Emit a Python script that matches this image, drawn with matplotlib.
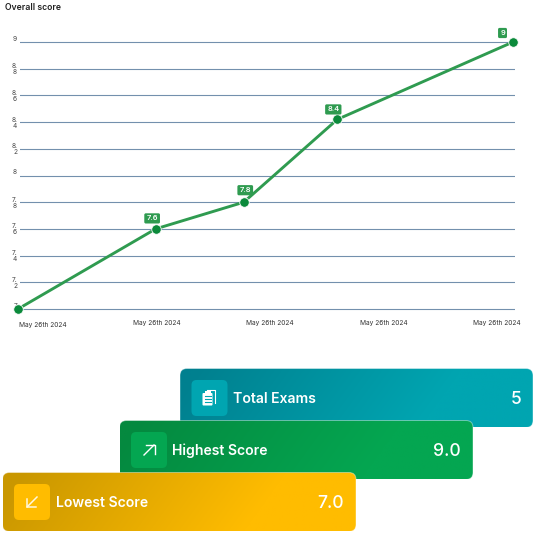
import numpy as np
import matplotlib
matplotlib.use("Agg")
import matplotlib.pyplot as plt
from matplotlib.patches import FancyBboxPatch, Rectangle
from matplotlib.transforms import ScaledTranslation

plt.rcParams['font.family'] = ['Inter', 'DejaVu Sans']

W, H = 536, 533

# chart data
x_pos = [0, 27.8, 45.6, 64.5, 100]
scores = [7, 7.6, 7.8, 8.42, 9]
score_labels = ['7', '7.6', '7.8', '8.4', '9']
label_offsets = [(3.5, 9), (-3.5, 10.5), (1.5, 12), (-4, 10), (-10.5, 9)]

y_ticks = [7, 7.2, 7.4, 7.6, 7.8, 8, 8.2, 8.4, 8.6, 8.8, 9]
y_tick_labels = ['7', '7.\n2', '7.\n4', '7.\n6', '7.\n8', '8', '8.\n2', '8.\n4', '8.\n6', '8.\n8', '9']
x_ticks = [5.05, 27.98, 50.9, 73.8, 96.8]
x_tick_labels = ['May 26th 2024'] * 5

# cards
card_names = ['Total Exams', 'Highest Score', 'Lowest Score']
card_values = ['5', '9.0', '7.0']
card_left = [180, 119.5, 2.5]
card_right = [533, 473, 356]
card_top = [368.5, 420.5, 472.5]
card_dark = ['#00808f', '#05893f', '#c99700']
card_light = ['#00a5b1', '#04a651', '#ffbc00']
CARD_H = 59


def px(n):
    # pixels to points at dpi 100
    return n * 0.72


def hex_rgb(c):
    return np.array(matplotlib.colors.to_rgb(c))


fig = plt.figure(figsize=(W / 100, H / 100), dpi=100)

# overlay in pixel coords, for the title and cards
bg = fig.add_axes([0, 0, 1, 1])
bg.set_xlim(0, W)
bg.set_ylim(H, 0)
bg.axis('off')

bg.text(5, 7, 'Overall score', fontsize=px(8.7), fontweight='semibold', color='#222222', va='center')

# line chart
ax = fig.add_axes([20 / W, (H - 311.5) / H, 495 / W, 282 / H])
ax.patch.set_alpha(0)
ax.set_xlim(0.4, 100.4)
ax.set_ylim(7 - 2.5 / 133.5, 9 + 12.5 / 133.5)
for s in ax.spines.values():
    s.set_visible(False)

ax.set_yticks(y_ticks)
ax.set_yticklabels(y_tick_labels, fontsize=px(6.6), color='#444444', linespacing=1.0)
ax.set_xticks(x_ticks)
ax.set_xticklabels(x_tick_labels, fontsize=px(6.6), color='#333333')
ax.tick_params(axis='both', length=0)
ax.tick_params(axis='y', pad=px(3))
ax.tick_params(axis='x', pad=px(9))
ax.grid(axis='y', color='#7390ad', lw=px(1.1))
ax.set_axisbelow(True)

# single line y labels sit above their gridline, first x label is a bit lower
for t, s in zip(ax.get_yticklabels(), y_tick_labels):
    if '\n' not in s:
        t.set_transform(t.get_transform() + ScaledTranslation(0, px(4) / 72, fig.dpi_scale_trans))
first = ax.get_xticklabels()[0]
first.set_transform(first.get_transform() + ScaledTranslation(0, -px(1.5) / 72, fig.dpi_scale_trans))

ax.plot(x_pos, scores, color='#2f9b50', lw=px(2.9), clip_on=False, zorder=3, solid_capstyle='round')
ax.plot(x_pos, scores, 'o', ms=px(9.5), mfc='#0b8a3b', mec='white', mew=px(0.8), clip_on=False, zorder=4)

for x, y, s, off in zip(x_pos, scores, score_labels, label_offsets):
    ax.annotate(s, (x, y), xytext=(px(off[0]), px(off[1])), textcoords='offset points',
                ha='center', va='center', fontsize=px(7.5), fontweight='semibold', color='white', zorder=5,
                bbox=dict(boxstyle='round,pad=0.28,rounding_size=0.2', fc='#2f9b50', ec='none'))


# cards, bottom card is drawn last so it overlaps the one above
for i in range(3):
    l, r, t = card_left[i], card_right[i], card_top[i]
    b = t + CARD_H
    patch = FancyBboxPatch((l, t), r - l, CARD_H, boxstyle='round,pad=0,rounding_size=7',
                           fc='none', ec='none', transform=bg.transData, zorder=2 + i)
    bg.add_patch(patch)
    # diagonal gradient, reaches the light colour at ~80% of the width
    xx, yy = np.meshgrid(np.linspace(0, 1, 400), np.linspace(0, 1, 60))
    g = np.clip((xx + 0.12 * yy - 0.05) / 0.75, 0, 1)[..., None]
    img = hex_rgb(card_dark[i]) * (1 - g) + hex_rgb(card_light[i]) * g
    im = bg.imshow(img, extent=(l, r, b, t), aspect='auto', zorder=2 + i, interpolation='bilinear')
    im.set_clip_path(patch)
    bg.add_patch(FancyBboxPatch((l, t), r - l, CARD_H, boxstyle='round,pad=0,rounding_size=7',
                                fc='none', ec=(1, 1, 1, 0.4), lw=px(1), zorder=2 + i))
    # icon box
    bx = l + 11.5
    by = t + 11.5
    bg.add_patch(FancyBboxPatch((bx, by), 36, 36, boxstyle='round,pad=0,rounding_size=5',
                                fc=card_light[i], ec='none', zorder=2 + i))
    bg.text(bx + 41.5, t + 30.7, card_names[i], fontsize=px(14), fontweight='semibold', color='white',
            va='center', zorder=2 + i)
    bg.text(r - 12, t + 30.7, card_values[i], fontsize=px(17.5), fontweight='medium', color='white',
            va='center', ha='right', zorder=2 + i)
bg.set_xlim(0, W)
bg.set_ylim(H, 0)

# clipboard icon
cx, cy = 209, 398
bg.add_patch(FancyBboxPatch((cx - 6.5, cy - 5), 10, 12.5, boxstyle='round,pad=0,rounding_size=1',
                            fc='white', ec='none', zorder=6))
bg.add_patch(Rectangle((cx - 4, cy - 7), 5.5, 2.5, fc='white', ec='none', zorder=6))
bg.plot([cx - 2, cx + 5.5, cx + 5.5], [cy - 8, cy - 8, cy + 5], color='white', lw=px(1.1), zorder=6)
for dy in (-2, 1, 4):
    bg.plot([cx - 4.5, cx - 3.3], [cy + dy, cy + dy], color=card_light[0], lw=px(1.1), zorder=7)
    bg.plot([cx - 2, cx + 1.5], [cy + dy, cy + dy], color=card_light[0], lw=px(1.1), zorder=7)

# up arrow
bg.plot([144, 154], [455, 445], color='white', lw=px(1.4), zorder=6)
bg.plot([146, 154.5, 154.5], [445, 445, 453.5], color='white', lw=px(1.4), zorder=6)
# down arrow
bg.plot([37, 27], [497, 507], color='#fff8e0', lw=px(1.5), zorder=6)
bg.plot([27, 27, 35.5], [498.5, 507, 507], color='#fff8e0', lw=px(1.5), zorder=6)

fig.savefig('out.png', dpi=100)
